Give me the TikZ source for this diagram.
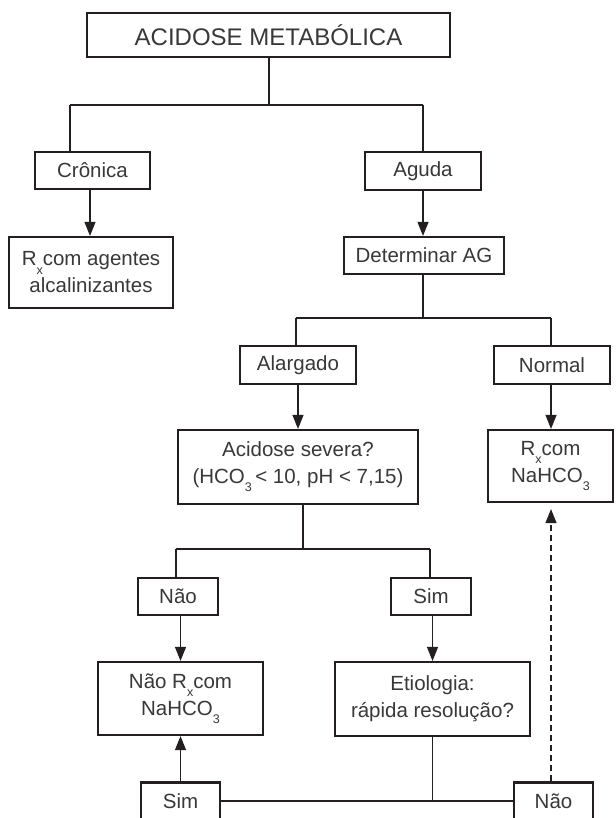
\documentclass[tikz,border=0pt]{standalone}
\usepackage{fontspec}
\setmainfont{Liberation Sans}
\usetikzlibrary{arrows.meta}
\definecolor{bord}{HTML}{231F20}
\definecolor{txt}{HTML}{383838}
\newcommand{\lowsub}[1]{\raisebox{-0.75ex}{\fontsize{12.5}{12.5}\selectfont #1}}
\begin{document}
\begin{tikzpicture}[x=1pt,y=-1pt,
  box/.style={draw=bord, line width=2.2pt, text=txt, font=\fontsize{20.5}{27}\selectfont,
    align=center, inner sep=0pt, minimum width=#1},
  conn/.style={draw=bord, line width=1.1pt},
  arr/.style={conn, -{Triangle[length=14pt,width=11pt]}}
]
\useasboundingbox (0,0) rectangle (615,818);

% nodes
\node[box=363, minimum height=44, font=\fontsize{24}{28}\selectfont] (title) at (268.5,35) {ACIDOSE METABÓLICA};
\node[box=115, minimum height=37] (cronica) at (92.5,170.5) {Crônica};
\node[box=116, minimum height=38] (aguda) at (423,171) {Aguda};
\node[box=164, minimum height=71] (rx1) at (91,272.5) {R\lowsub{x}com agentes\\alcalinizantes};
\node[box=160, minimum height=37] (determinar) at (424,255.5) {Determinar AG};
\node[box=116, minimum height=38] (alargado) at (298,365) {Alargado};
\node[box=116, minimum height=38] (normal) at (552,365) {Normal};
\node[box=240, minimum height=74] (acidose) at (298,467) {Acidose severa?\\(HCO\lowsub{3}\,< 10, pH < 7,15)};
\node[box=125, minimum height=72] (rx2) at (550.5,466) {R\lowsub{x}com\\NaHCO\lowsub{3}};
\node[box=80, minimum height=37] (nao1) at (178,596.5) {Não};
\node[box=80, minimum height=37] (sim1) at (431,596.5) {Sim};
\node[box=165, minimum height=73] (naorx) at (180.5,698.5) {Não R\lowsub{x}com\\NaHCO\lowsub{3}};
\node[box=195, minimum height=74] (etiologia) at (432.5,699) {Etiologia:\\rápida resolução?};
\node[box=79, minimum height=37] (sim2) at (180.5,801) {Sim};
\node[box=79, minimum height=37] (nao2) at (553.5,801) {Não};

% junctions
\coordinate (j1) at (269,105);
\coordinate (j1l) at (70,105);
\coordinate (j1r) at (423,105);
\coordinate (j2) at (423,318);
\coordinate (j2l) at (296,318);
\coordinate (j2r) at (551,318);
\coordinate (j3) at (303,549);
\coordinate (j3l) at (176,549);
\coordinate (j3r) at (430,549);

% connectors
\draw[conn] (title.south -| j1) -- (j1);
\draw[conn] (j1l) -- (j1r);
\draw[conn] (j1l) -- (j1l |- cronica.north);
\draw[conn] (j1r) -- (j1r |- aguda.north);
\draw[arr] (cronica.south -| 90,0) -- (rx1.north -| 90,0);
\draw[arr] (aguda.south) -- (aguda.south |- determinar.north);

\draw[conn] (determinar.south -| j2) -- (j2);
\draw[conn] (j2l) -- (j2r);
\draw[conn] (j2l) -- (j2l |- alargado.north);
\draw[conn] (j2r) -- (j2r |- normal.north);
\draw[arr] (alargado.south) -- (acidose.north);
\draw[arr] (normal.south -| j2r) -- (rx2.north -| j2r);

\draw[conn] (acidose.south -| j3) -- (j3);
\draw[conn] (j3l) -- (j3r);
\draw[conn] (j3l) -- (j3l |- nao1.north);
\draw[conn] (j3r) -- (j3r |- sim1.north);
\draw[arr] (nao1.south -| naorx.north) -- (naorx.north);
\draw[arr] (sim1.south -| etiologia.north) -- (etiologia.north);

\draw[conn] (sim2.east) -- (nao2.west);
\draw[conn] (etiologia.south) -- (etiologia.south |- sim2.east);
\draw[arr] (sim2.north) -- (naorx.south -| sim2.north);
\draw[arr, dash pattern=on 6pt off 4pt, shorten >=6pt] (nao2.north -| j2r) -- (rx2.south -| j2r);
\end{tikzpicture}
\end{document}
